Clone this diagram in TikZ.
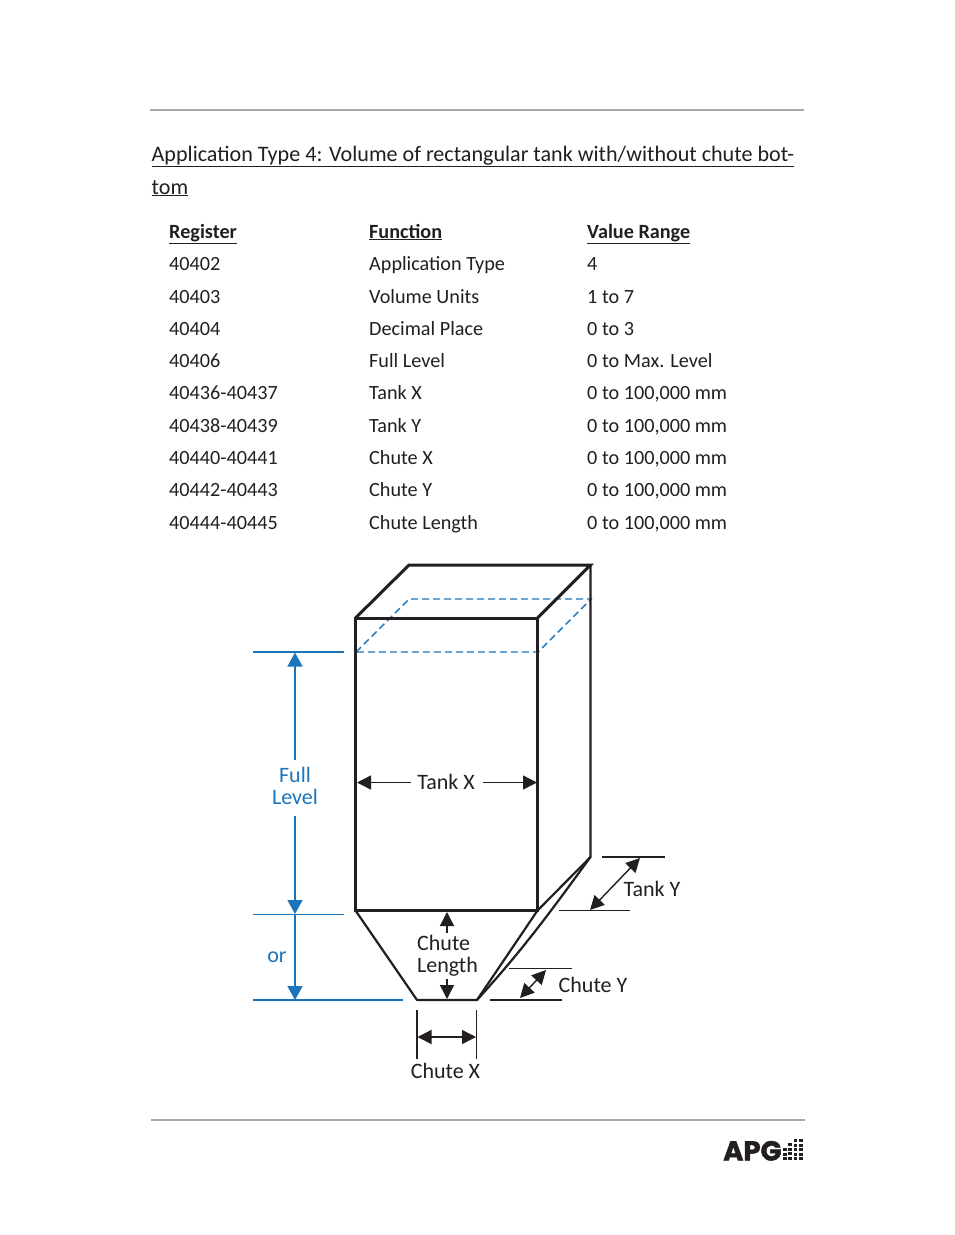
\documentclass[tikz,border=0pt]{standalone}
\usepackage{fontspec}
\setmainfont{Carlito}
\newfontfamily\logofont[FakeBold=1.5]{Poppins}
\usetikzlibrary{arrows.meta}
\definecolor{apgblue}{RGB}{27,117,188}
\definecolor{ink}{RGB}{35,31,32}
\definecolor{rulegray}{RGB}{165,167,170}
\tikzset{
  x=1pt,y=-1pt,
  txt/.style={anchor=base west,inner sep=0pt,text=ink,font=\fontsize{20.2}{22}\selectfont},
  ttl/.style={anchor=base west,inner sep=0pt,text=ink,font=\fontsize{22.1}{26}\selectfont},
  lab/.style={inner sep=0pt,text=ink,font=\fontsize{22}{22}\selectfont,align=center},
  blab/.style={inner sep=0pt,text=apgblue,font=\fontsize{22}{22}\selectfont,align=center},
  tank/.style={draw=ink,line width=3pt,line join=miter},
  tankthin/.style={draw=ink,line width=2.2pt,line join=round},
  dim/.style={draw=ink,line width=1.7pt},
  ext/.style={draw=ink,line width=1.2pt},
  arr/.style={draw=ink,line width=1.4pt,{Triangle[length=14pt,width=14pt]}-{Triangle[length=14pt,width=14pt]}},
  sarr/.style={draw=ink,line width=1.4pt,-{Triangle[length=14pt,width=14pt]}},
  bext/.style={draw=apgblue,line width=1.8pt},
  barr/.style={draw=apgblue,line width=1.6pt,-{Triangle[length=14pt,width=15pt]}},
  level/.style={draw=apgblue,line width=1.4pt,dash pattern=on 7pt off 4pt},
  pagerule/.style={draw=rulegray,line width=1.8pt},
  cell/.style={fill=ink,draw=none}
}
\begin{document}
\begin{tikzpicture}
\useasboundingbox (0,0) rectangle (954,1235);
\fill[white] (0,0) rectangle (954,1235);
% page rules
\coordinate (r1a) at (150,110); \coordinate (r1b) at (804,110);
\coordinate (r2a) at (151,1120); \coordinate (r2b) at (805,1120);
\draw[pagerule] (r1a) -- (r1b);
\draw[pagerule] (r2a) -- (r2b);
% title
\node[ttl] (t1) at (151.5,161) {\underline{Application Type 4: Volume of rectangular tank with/without chute bot-}};
\node[ttl] (t2) at (151.5,194) {\underline{tom}};
% table
\node[txt] (h1) at (169,238) {\textbf{\underline{Register}}};
\node[txt] (h2) at (369,238) {\textbf{\underline{Function}}};
\node[txt] (h3) at (587,238) {\textbf{\underline{Value Range}}};
\node[txt] (a1) at (169,270) {40402};       \node[txt] (b1) at (369,270) {Application Type}; \node[txt] (c1) at (587,270) {4};
\node[txt] (a2) at (169,303) {40403};       \node[txt] (b2) at (369,303) {Volume Units};     \node[txt] (c2) at (587,303) {1 to 7};
\node[txt] (a3) at (169,335) {40404};       \node[txt] (b3) at (369,335) {Decimal Place};    \node[txt] (c3) at (587,335) {0 to 3};
\node[txt] (a4) at (169,367) {40406};       \node[txt] (b4) at (369,367) {Full Level};       \node[txt] (c4) at (587,367) {0 to Max. Level};
\node[txt] (a5) at (169,399) {40436-40437}; \node[txt] (b5) at (369,399) {Tank X};           \node[txt] (c5) at (587,399) {0 to 100,000 mm};
\node[txt] (a6) at (169,432) {40438-40439}; \node[txt] (b6) at (369,432) {Tank Y};           \node[txt] (c6) at (587,432) {0 to 100,000 mm};
\node[txt] (a7) at (169,464) {40440-40441}; \node[txt] (b7) at (369,464) {Chute X};          \node[txt] (c7) at (587,464) {0 to 100,000 mm};
\node[txt] (a8) at (169,496) {40442-40443}; \node[txt] (b8) at (369,496) {Chute Y};          \node[txt] (c8) at (587,496) {0 to 100,000 mm};
\node[txt] (a9) at (169,529) {40444-40445}; \node[txt] (b9) at (369,529) {Chute Length};     \node[txt] (c9) at (587,529) {0 to 100,000 mm};
% tank corners
\coordinate (fTL) at (355.5,618); \coordinate (fTR) at (537.5,618);
\coordinate (fBL) at (355.5,910.5); \coordinate (fBR) at (537.5,910.5);
\coordinate (bTL) at (409,565); \coordinate (bTR) at (590.5,565);
\coordinate (bBR) at (590.5,857);
\coordinate (cL) at (417,1000); \coordinate (cR) at (477,1000);
% level plane
\coordinate (lFL) at (356,652); \coordinate (lFR) at (538,652);
\coordinate (lBL) at (409,599); \coordinate (lBR) at (591,599);
\draw[level] (lFL) -- (lBL) -- (lBR) -- (lFR) -- cycle;
% tank
\draw[tank] (fTL) rectangle (fBR);
\draw[tank] (fTL) -- (bTL) -- (bTR) -- (fTR);
\draw[tankthin] (bTR) -- (bBR) -- (fBR);
\draw[tankthin] (fBL) -- (cL) -- (cR) -- (fBR);
\draw[tankthin] (bBR) .. controls (553,908) and (527,945) .. (cR);
% Full level
\coordinate (e1a) at (253,652); \coordinate (e1b) at (344,652);
\coordinate (e2a) at (253,914); \coordinate (e2b) at (344,914);
\coordinate (e3a) at (253,1000); \coordinate (e3b) at (403,1000);
\draw[bext] (e1a) -- (e1b);
\draw[apgblue,line width=.9pt] (e2a) -- (e2b);
\draw[bext] (e3a) -- (e3b);
\node[blab,minimum height=56pt] (full) at (295,786) {Full\\Level};
\node[blab,anchor=base] (orl) at (277,962) {or};
\coordinate (fa) at (295,652.5); \coordinate (fb) at (295,914); \coordinate (fc) at (295,1000);
\draw[barr] ([yshift=-2pt]full.north) -- (fa);
\draw[barr] ([yshift=-2pt]full.south) -- (fb);
\draw[barr] (fb) -- (fc);
% Tank X
\node[lab] (tx) at (446,782) {Tank X};
\coordinate (txl) at (357,782.5); \coordinate (txr) at (537,782.5);
\draw[sarr] (411,782.5) -- (txl);
\draw[sarr] (483,782.5) -- (txr);
% Chute length
\node[lab,align=left,anchor=west] (cl) at (417,955.5) {Chute\\Length};
\coordinate (cla) at (447,912); \coordinate (clb) at (447,999);
\draw[sarr] (447,933) -- (cla);
\draw[sarr] (447,979) -- (clb);
% Chute X
\coordinate (cx1) at (417,1010); \coordinate (cx2) at (417,1059);
\coordinate (cx3) at (476.5,1010); \coordinate (cx4) at (476.5,1059);
\draw[dim] (cx1) -- (cx2);
\draw[ext] (cx3) -- (cx4);
\draw[arr] (417.5,1037) -- (476,1037);
\node[lab] (chx) at (445.5,1071) {Chute X};
% Tank Y
\coordinate (ty1) at (602,857); \coordinate (ty2) at (665,857);
\coordinate (ty3) at (559,910.5); \coordinate (ty4) at (630,910.5);
\draw[dim] (ty1) -- (ty2);
\draw[ext] (ty3) -- (ty4);
\draw[arr] (590,910) -- (640,858);
\node[lab] (tyl) at (652,889) {Tank Y};
% Chute Y
\coordinate (cy1) at (509,968.5); \coordinate (cy2) at (572,968.5);
\coordinate (cy3) at (490,1000); \coordinate (cy4) at (562,1000);
\draw[dim] (cy1) -- (cy2);
\draw[dim] (cy3) -- (cy4);
\draw[arr] (520,998) -- (546,970);
\node[lab] (chy) at (593,985) {Chute Y};
% logo
\node[anchor=base west,inner sep=0pt,text=ink,font=\logofont\fontsize{27.5}{27}\bfseries\selectfont] (logo) at (723,1160.5) {APG};
\foreach \cx/\top/\n in {785/1148/3,790/1143/4,795.5/1139/5,801/1139/5}{
  \foreach \k in {1,...,\n}{
    \fill[cell] (\cx-1.8,{\top+(\k-1)*4.5}) rectangle (\cx+1.8,{\top+(\k-1)*4.5+3.4});
  }
}
\end{tikzpicture}
\end{document}
